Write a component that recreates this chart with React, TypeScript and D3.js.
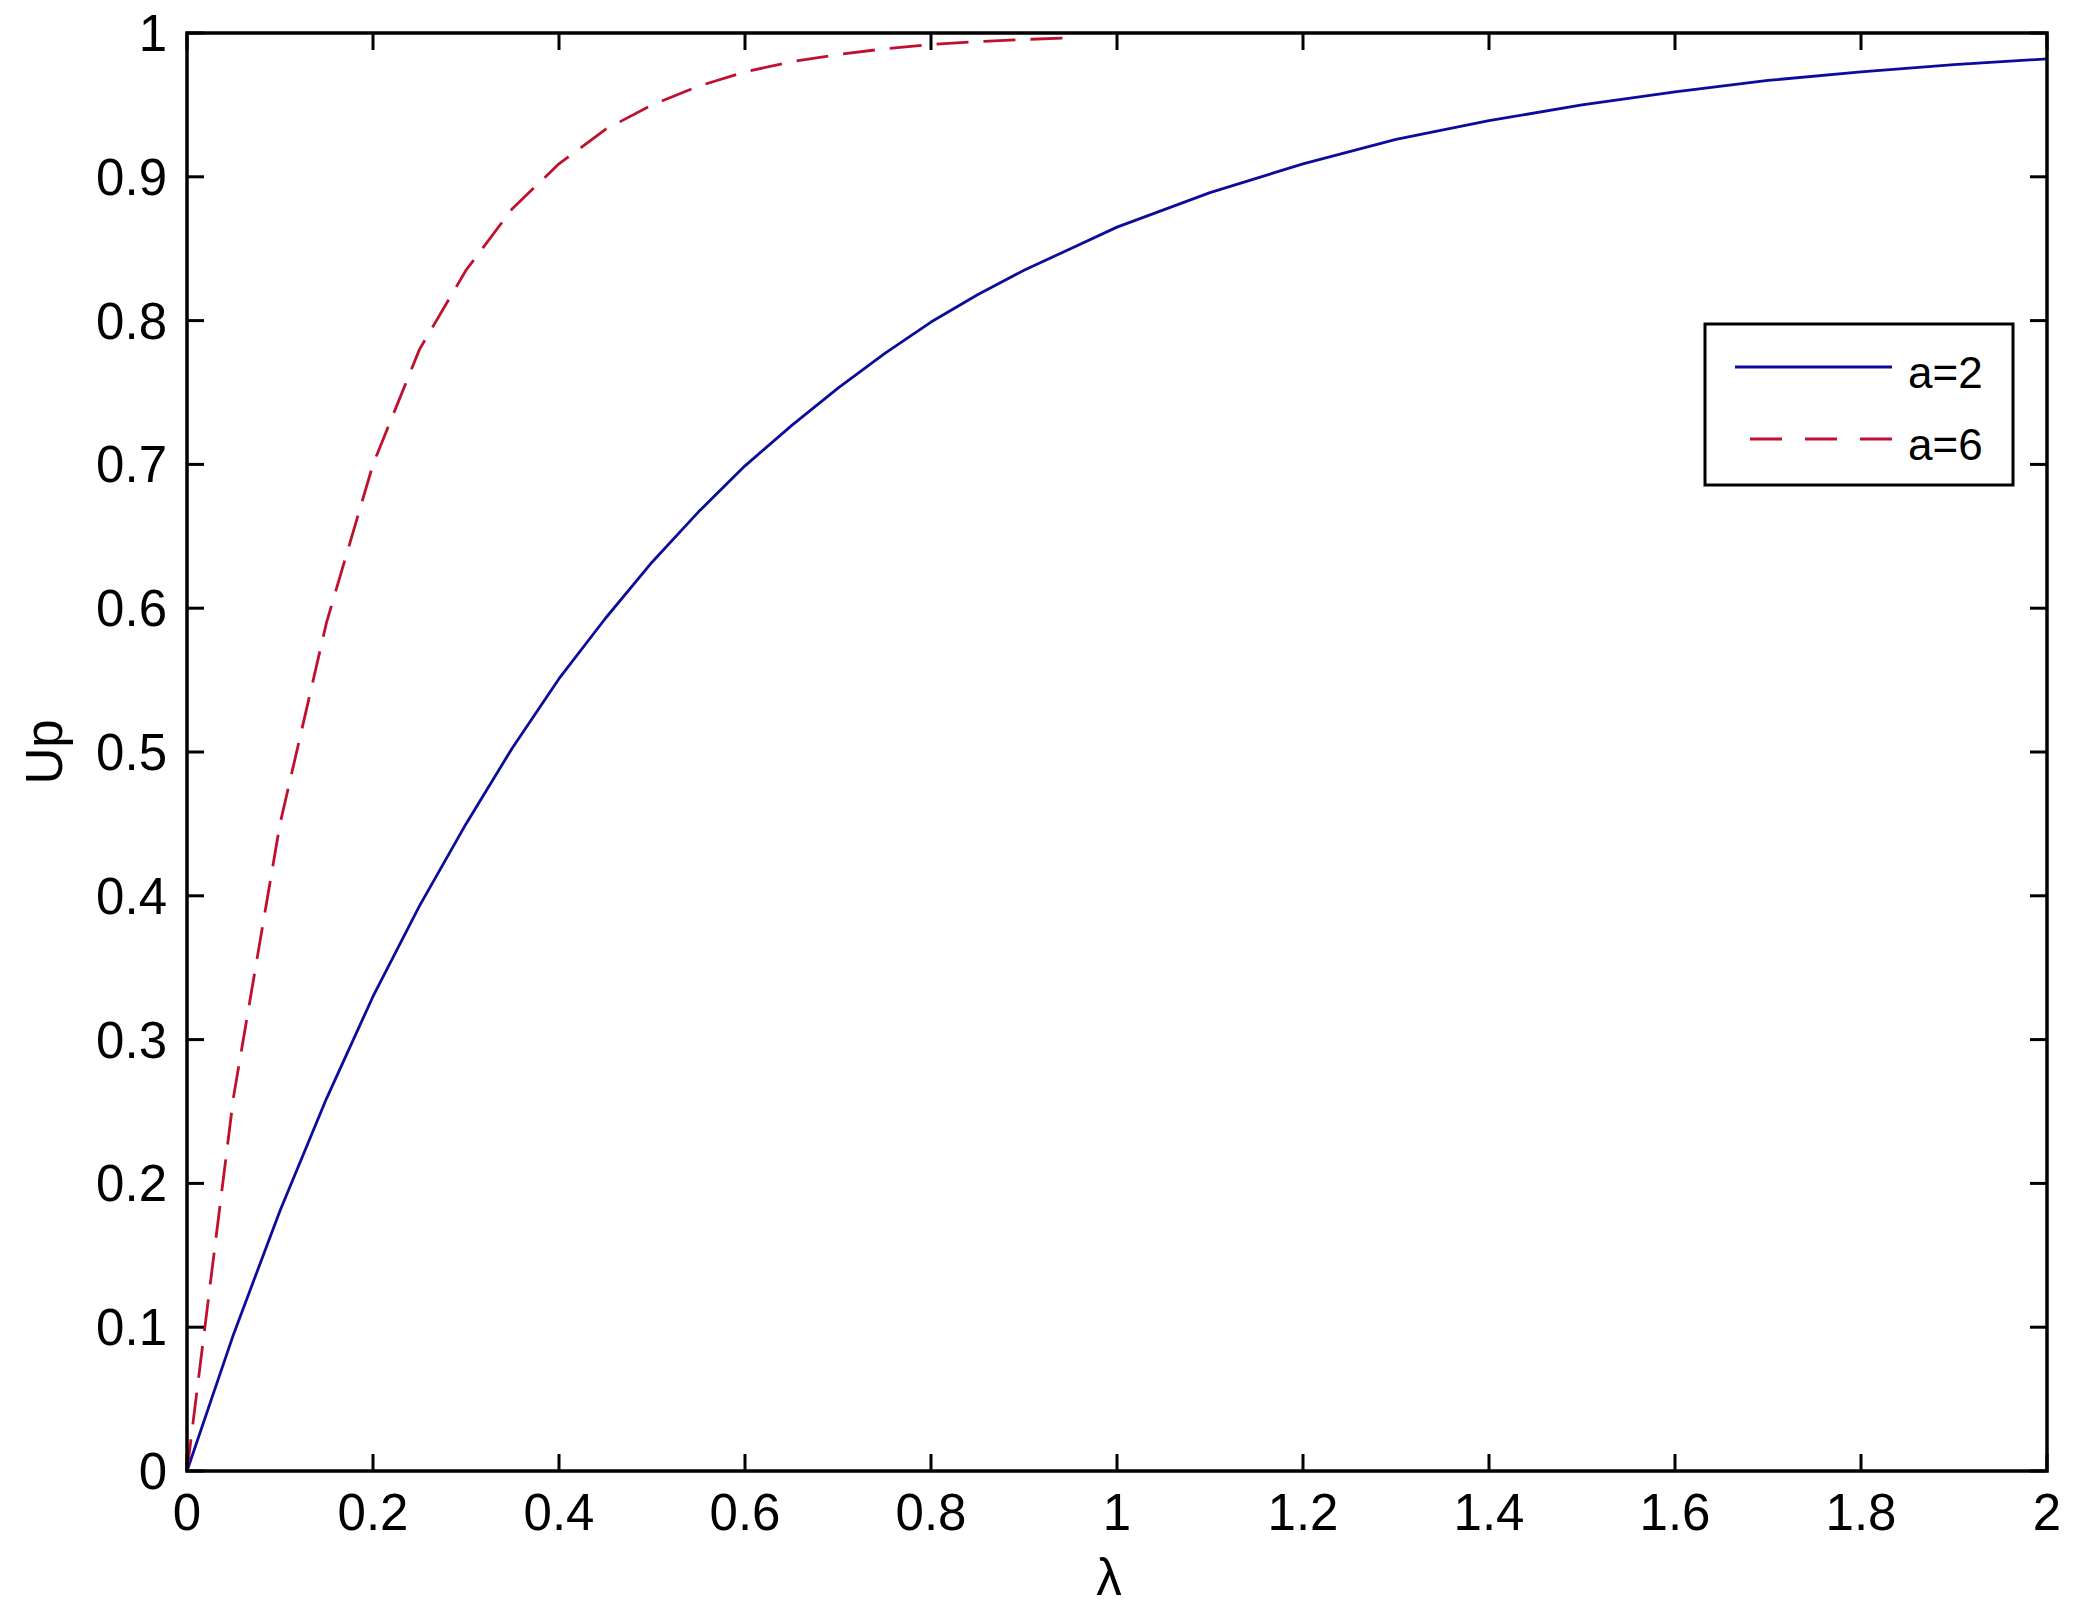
import React from "react";
import * as d3 from "d3";

// ---- data ----
const lambdaA2 = [0, 0.05, 0.1, 0.15, 0.2, 0.25, 0.3, 0.35, 0.4, 0.45, 0.5, 0.55, 0.6, 0.65, 0.7, 0.75, 0.8, 0.85, 0.9, 0.95, 1.0, 1.1, 1.2, 1.3, 1.4, 1.5, 1.6, 1.7, 1.8, 1.9, 2.0];
const upA2 = [0, 0.095, 0.181, 0.259, 0.33, 0.393, 0.45, 0.503, 0.551, 0.593, 0.632, 0.667, 0.699, 0.727, 0.753, 0.777, 0.799, 0.818, 0.835, 0.85, 0.865, 0.889, 0.909, 0.926, 0.939, 0.950, 0.959, 0.967, 0.973, 0.978, 0.982];

const lambdaA6 = [0, 0.05, 0.1, 0.15, 0.2, 0.25, 0.3, 0.35, 0.4, 0.45, 0.5, 0.55, 0.6, 0.65, 0.7, 0.75, 0.8, 0.85, 0.9, 0.95];
const upA6 = [0, 0.26, 0.45, 0.59, 0.70, 0.78, 0.835, 0.878, 0.909, 0.933, 0.950, 0.963, 0.973, 0.980, 0.985, 0.989, 0.992, 0.994, 0.9955, 0.9967];

const xTicks = [0, 0.2, 0.4, 0.6, 0.8, 1, 1.2, 1.4, 1.6, 1.8, 2];
const yTicks = [0, 0.1, 0.2, 0.3, 0.4, 0.5, 0.6, 0.7, 0.8, 0.9, 1];
const seriesLabels = ["a=2", "a=6"];
const xLabel = "λ";
const yLabel = "Up";

const W = 2079;
const H = 1621;
const L = 187, R = 2047, T = 33, B = 1471;
const BLUE = "#0c0c9c";
const RED = "#c0102e";
const FONT = "'Liberation Sans', Arial, Helvetica, sans-serif";

export default function App() {
  const x = d3.scaleLinear().domain([0, 2]).range([L, R]);
  const y = d3.scaleLinear().domain([0, 1]).range([B, T]);
  const line = d3
    .line<[number, number]>()
    .x((d) => x(d[0]))
    .y((d) => y(d[1]));
  const dA2 = line(lambdaA2.map((l, i) => [l, upA2[i]] as [number, number])) || "";
  const dA6 = line(lambdaA6.map((l, i) => [l, upA6[i]] as [number, number])) || "";
  const tickLen = 17;
  const fmt = (v: number) => String(+v.toFixed(1));

  return (
    <svg
      width={W}
      height={H}
      style={{ position: "absolute", left: 0, top: 0, background: "#fff" }}
      fontFamily={FONT}
    >
      <rect x={0} y={0} width={W} height={H} fill="#fff" />
      {/* curves */}
      <path d={dA2} fill="none" stroke={BLUE} strokeWidth={2.8} strokeLinejoin="round" />
      <path d={dA6} fill="none" stroke={RED} strokeWidth={2.8} strokeDasharray="32,15" strokeLinejoin="round" />
      {/* ticks */}
      {xTicks.map((t) => (
        <g key={"xt" + t}>
          <line x1={x(t)} x2={x(t)} y1={B} y2={B - tickLen} stroke="#000" strokeWidth={3} />
          <line x1={x(t)} x2={x(t)} y1={T} y2={T + tickLen} stroke="#000" strokeWidth={3} />
          <text x={x(t)} y={1530} fontSize={51} textAnchor="middle" fill="#000">
            {fmt(t)}
          </text>
        </g>
      ))}
      {yTicks.map((t) => (
        <g key={"yt" + t}>
          <line x1={L} x2={L + tickLen} y1={y(t)} y2={y(t)} stroke="#000" strokeWidth={3} />
          <line x1={R} x2={R - tickLen} y1={y(t)} y2={y(t)} stroke="#000" strokeWidth={3} />
          <text x={167} y={y(t) + 18} fontSize={51} textAnchor="end" fill="#000">
            {fmt(t)}
          </text>
        </g>
      ))}
      {/* axes box */}
      <rect x={L} y={T} width={R - L} height={B - T} fill="none" stroke="#000" strokeWidth={3.5} />
      {/* axis labels */}
      <text x={(L + R) / 2 - 8} y={1595} fontSize={51} textAnchor="middle" fill="#000">
        {xLabel}
      </text>
      <text
        transform={`translate(62, ${(T + B) / 2}) rotate(-90)`}
        fontSize={51}
        textAnchor="middle"
        fill="#000"
      >
        {yLabel}
      </text>
      {/* legend */}
      <rect x={1705} y={324} width={308} height={161} fill="#fff" stroke="#000" strokeWidth={3} />
      <line x1={1735} x2={1892} y1={367} y2={367} stroke={BLUE} strokeWidth={2.8} />
      <line x1={1750} x2={1892} y1={439} y2={439} stroke={RED} strokeWidth={2.8} strokeDasharray="32,23" />
      <text x={1908} y={388} fontSize={44} fill="#000">
        {seriesLabels[0]}
      </text>
      <text x={1908} y={460} fontSize={44} fill="#000">
        {seriesLabels[1]}
      </text>
    </svg>
  );
}
